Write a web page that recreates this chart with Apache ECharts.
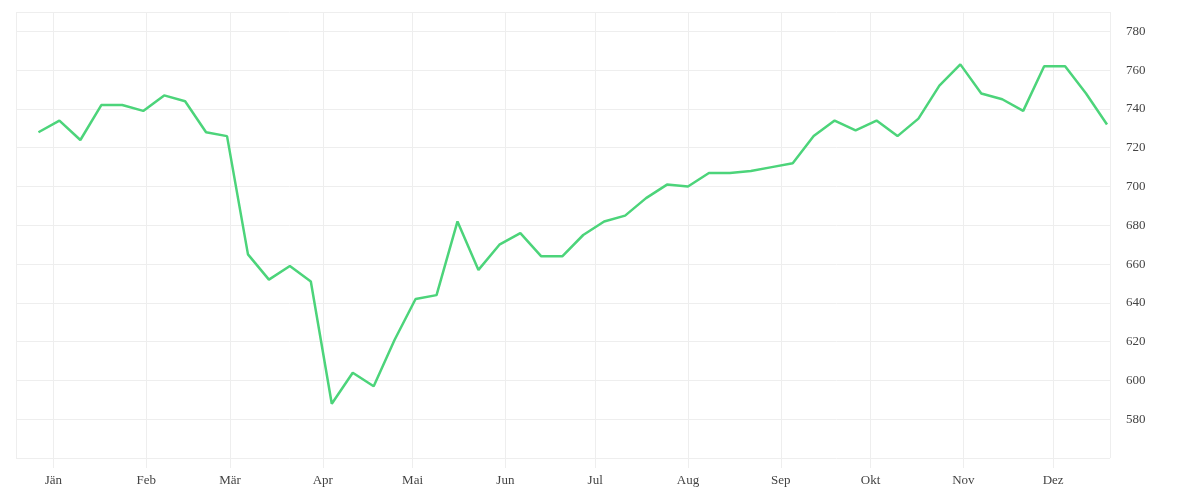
<!DOCTYPE html>
<html><head><meta charset="utf-8">
<script src="https://cdn.jsdelivr.net/npm/echarts@6/dist/echarts.min.js"></script>
<style>html,body{margin:0;background:#fff}#c{width:1200px;height:500px}</style></head>
<body><div id="c"></div>
<script>
const startDate = '2018-12-27';
const monthNames = ['Jän','Feb','Mär','Apr','Mai','Jun','Jul','Aug','Sep','Okt','Nov','Dez'];
const values = [728,734,724,742,742,739,747,744,728,726,665,652,659,651,588,604,597,621,642,644,682,657,670,676,664,664,675,682,685,694,701,700,707,707,708,710,712,726,734,729,734,726,735,752,763,748,745,739,762,762,748,732];
const yTicks = {min:560, max:790, interval:20};
const t0 = Date.parse(startDate+'T00:00:00Z');
const data = values.map((v,i)=>[t0+i*7*86400000, v]);
const chart = echarts.init(document.getElementById('c'));
chart.setOption({
  animation:false,
  grid:{left:16,right:90,top:12,bottom:42},
  xAxis:{type:'time', min:Date.parse('2018-12-19T12:00:00Z'), max:Date.parse('2019-12-20T00:00:00Z'),
    splitNumber:12,
    axisLine:{show:false}, axisTick:{show:true,length:10,lineStyle:{color:'#eee'}},
    splitLine:{show:true,lineStyle:{color:'#eee'}},
    axisLabel:{color:'#444',fontFamily:'Liberation Serif',fontSize:13,margin:16,
      formatter:(v)=>monthNames[new Date(v).getUTCMonth()], showMinLabel:false, showMaxLabel:false}},
  yAxis:{type:'value', position:'right', min:yTicks.min, max:yTicks.max, interval:yTicks.interval,
    axisLine:{show:false}, axisTick:{show:false},
    splitLine:{lineStyle:{color:'#eee'}},
    axisLabel:{color:'#444',fontFamily:'Liberation Serif',fontSize:13,margin:16,showMinLabel:false,showMaxLabel:false}},
  series:[{type:'line', data, symbol:'none', lineStyle:{color:'#4cd47a',width:2.5}, itemStyle:{color:'#4cd47a'}}]
});
</script></body></html>
